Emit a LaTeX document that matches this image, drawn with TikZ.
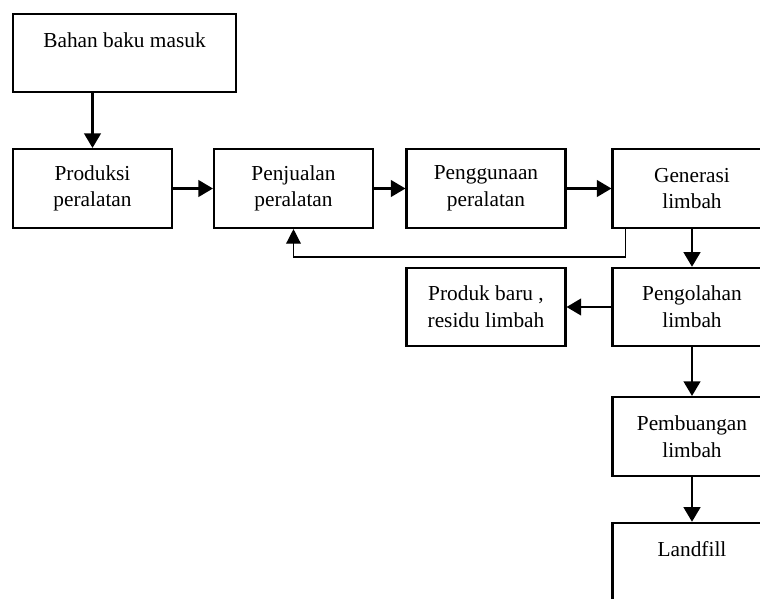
\documentclass[tikz,border=0pt]{standalone}
\usepackage{fontspec}
\setmainfont{Liberation Serif}
\usetikzlibrary{arrows.meta}
\begin{document}
\begin{tikzpicture}[x=0.75pt,y=-0.75pt,
  box/.style={draw, line width=1.8pt, inner sep=0pt, align=center,
    font=\fontsize{16}{20}\selectfont, minimum width=119pt, minimum height=59pt},
  arr/.style={line width=1.8pt, -{Triangle[width=12.5pt,length=11pt]}},
  thinarr/.style={line width=1pt, -{Triangle[width=11pt,length=11pt]}}]
\useasboundingbox (0,0) rectangle (760,599);
\clip (0,0) rectangle (760,599);
\node[box, minimum width=167pt, minimum height=58.5pt] (bahan) at (124.5,53) {Bahan baku masuk\\~};
\node[box] (prod) at (92.5,188.5) {Produksi\\peralatan};
\node[box] (penj) at (293.5,188.5) {Penjualan\\peralatan};
\node[box] (peng) at (486,188.5) {Penggunaan\\peralatan};
\node[box] (gen) at (692,188.5) {Generasi\\limbah};
\node[box, minimum height=58.5pt] (produk) at (486,307) {Produk baru ,\\residu limbah};
\node[box, minimum height=58.5pt] (olah) at (692,307) {Pengolahan\\limbah};
\node[box] (buang) at (692,436.5) {Pembuangan\\limbah};
\node[box, minimum height=58.5pt] (land) at (692,562) {Landfill\\~};
\draw[arr] (prod.north |- bahan.south) -- (prod.north);
\draw[arr] (prod.east) -- (penj.west);
\draw[arr] (penj.east) -- (peng.west);
\draw[arr] (peng.east) -- (gen.west);
\draw[arr] (gen.south) -- (olah.north);
\draw[arr] (olah.west) -- (produk.east);
\draw[arr] (olah.south) -- (buang.north);
\draw[arr] (buang.south) -- (land.north);
\draw[thinarr] ([xshift=10.5pt]gen.south west) |- ([yshift=-21pt]penj.south) -- (penj.south);
\end{tikzpicture}
\end{document}
